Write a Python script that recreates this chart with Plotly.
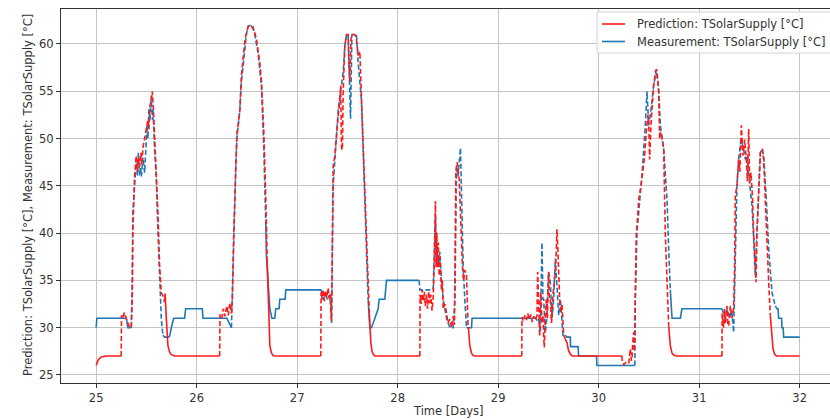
import plotly.graph_objects as go

# ---------------- data (time in days, temperature in °C) ----------------
# on-flag: 1 = segment drawn dashed (pump on), 0 = solid
pred_t = [25.000, 25.02, 25.05, 25.10, 25.249, 25.252, 25.266, 25.28, 25.299, 25.316, 25.332, 25.349,
          25.359, 25.365, 25.372, 25.382, 25.399, 25.41, 25.42, 25.432, 25.445, 25.455, 25.465, 25.482,
          25.495, 25.515, 25.525, 25.535, 25.548, 25.558, 25.570, 25.581, 25.598, 25.605, 25.615, 25.631,
          25.648, 25.664, 25.681, 25.686, 25.698, 25.706, 25.714, 25.731, 25.748, 25.78,
          26.229, 26.232, 26.25, 26.265, 26.28, 26.30, 26.315, 26.33, 26.346, 26.355, 26.369, 26.389,
          26.40, 26.412, 26.429, 26.445, 26.46, 26.478, 26.495, 26.512, 26.53, 26.545, 26.561, 26.578,
          26.595, 26.611, 26.628, 26.645, 26.668, 26.688, 26.701, 26.711, 26.72, 26.728, 26.745, 26.761, 26.78,
          27.235, 27.238, 27.25, 27.259, 27.27, 27.282, 27.295, 27.308, 27.32, 27.332, 27.342, 27.35,
          27.358, 27.375, 27.391, 27.408, 27.425, 27.433, 27.441, 27.45, 27.458, 27.474, 27.491, 27.507,
          27.515, 27.524, 27.535, 27.545, 27.574, 27.590, 27.607, 27.624, 27.640, 27.657, 27.673, 27.690,
          27.706, 27.718, 27.723, 27.733, 27.745, 27.756, 27.773,
          28.221, 28.223, 28.235, 28.245, 28.255, 28.265, 28.275, 28.287, 28.298, 28.31, 28.32, 28.33,
          28.342, 28.353, 28.362, 28.370, 28.376, 28.382, 28.39, 28.396, 28.405, 28.413, 28.42, 28.436,
          28.445, 28.453, 28.47, 28.486, 28.50, 28.519, 28.536, 28.552, 28.565, 28.579, 28.592, 28.612,
          28.625, 28.645, 28.655, 28.668, 28.685, 28.701, 28.704, 28.718, 28.735, 28.751, 28.77,
          29.235, 29.237, 29.25, 29.265, 29.28, 29.295, 29.31, 29.325, 29.34, 29.355, 29.37, 29.386,
          29.393, 29.403, 29.413, 29.42, 29.426, 29.436, 29.446, 29.453, 29.459, 29.469, 29.479, 29.49,
          29.502, 29.51, 29.519, 29.53, 29.536, 29.545, 29.552, 29.569, 29.578, 29.585, 29.595, 29.603,
          29.612, 29.625, 29.635, 29.652, 29.668, 29.685, 29.70, 29.718, 29.74,
          30.232, 30.235, 30.249, 30.27, 30.299, 30.315, 30.325, 30.332, 30.34, 30.348, 30.355, 30.365,
          30.375, 30.388, 30.398, 30.421, 30.438, 30.454, 30.474, 30.491, 30.50, 30.507, 30.515, 30.524,
          30.547, 30.567, 30.580, 30.597, 30.607, 30.614, 30.630, 30.647, 30.663, 30.680, 30.697, 30.70,
          30.713, 30.73, 30.746, 30.77,
          31.227, 31.229, 31.244, 31.252, 31.260, 31.27, 31.277, 31.285, 31.294, 31.302, 31.310, 31.325,
          31.343, 31.352, 31.360, 31.376, 31.393, 31.405, 31.420, 31.436, 31.453, 31.469, 31.480, 31.493,
          31.502, 31.516, 31.532, 31.542, 31.552, 31.566, 31.575, 31.595, 31.609, 31.629, 31.642, 31.658,
          31.675, 31.692, 31.708, 31.72, 31.735, 31.75, 31.77, 32.0]
pred_v = [26.0, 26.6, 26.9, 27.0, 27.0, 31.3, 31.0, 31.6, 31.0, 30.5, 30.0, 30.1,
          33.0, 40.0, 43.6, 46.0, 48.2, 46.5, 48.0, 47.0, 48.5, 47.2, 49.0, 50.0,
          51.0, 52.0, 51.0, 53.5, 54.0, 55.0, 53.0, 50.7, 46.4, 45.4, 42.0, 36.6,
          33.7, 33.4, 32.7, 33.6, 31.0, 29.2, 28.1, 27.4, 27.15, 27.0,
          27.0, 31.4, 31.0, 32.0, 31.2, 32.3, 31.3, 32.6, 31.5, 33.0, 40.0, 48.9,
          50.5, 51.4, 52.8, 56.6, 58.5, 60.2, 61.2, 61.8, 62.0, 61.9, 61.6, 61.2,
          60.5, 59.5, 58.0, 56.0, 50.7, 43.6, 37.3, 33.0, 30.0, 28.1, 27.3, 27.05, 27.0,
          27.0, 33.8, 33.0, 34.0, 32.8, 33.9, 33.2, 34.2, 33.0, 33.5, 30.7, 38.0,
          47.1, 48.2, 50.7, 52.4, 54.2, 55.6, 49.0, 48.8, 55.0, 59.8, 61.0, 61.0,
          58.0, 56.0, 60.5, 61.0, 61.0, 60.5, 58.8, 59.2, 54.2, 48.9, 43.6, 39.4,
          34.8, 31.5, 30.0, 28.4, 27.5, 27.2, 27.0,
          27.0, 33.5, 32.5, 34.0, 32.8, 33.8, 32.3, 33.5, 32.0, 33.8, 32.6, 33.5,
          31.8, 33.0, 36.0, 40.0, 43.4, 36.4, 40.0, 36.4, 39.0, 35.5, 37.5, 34.0,
          35.0, 32.0, 32.5, 31.6, 30.5, 30.9, 30.0, 31.2, 30.3, 46.4, 47.5, 45.7,
          41.8, 36.4, 35.0, 36.1, 35.5, 30.0, 30.0, 28.1, 27.3, 27.05, 27.0,
          27.0, 31.1, 30.7, 31.3, 30.8, 31.5, 30.9, 31.4, 30.6, 31.2, 30.8, 31.3,
          35.9, 32.0, 29.1, 33.0, 33.7, 30.5, 31.3, 29.0, 27.9, 31.0, 33.0, 31.0,
          35.9, 33.0, 33.0, 30.5, 31.0, 33.5, 34.1, 35.9, 38.0, 40.4, 38.0, 34.0,
          33.0, 31.6, 32.5, 29.2, 28.8, 28.4, 27.6, 27.2, 27.0,
          27.0, 26.3, 26.1, 26.3, 26.2, 27.75, 26.5, 26.7, 28.5, 29.5, 27.5, 33.9,
          40.0, 41.7, 43.5, 45.0, 46.4, 47.8, 50.7, 52.5, 51.0, 47.8, 50.0, 52.1,
          55.6, 57.2, 57.3, 54.9, 50.0, 50.7, 50.0, 48.9, 40.0, 34.8, 30.2, 29.5,
          28.1, 27.3, 27.1, 27.0,
          27.0, 31.5, 30.0, 32.0, 30.5, 31.8, 32.3, 30.3, 30.2, 31.5, 32.3, 31.0,
          32.0, 36.0, 44.0, 45.0, 47.8, 46.5, 51.4, 48.2, 49.9, 47.8, 45.5, 51.0,
          45.3, 46.4, 43.6, 40.1, 37.6, 34.8, 40.0, 46.4, 48.5, 48.9, 47.8, 43.6,
          38.3, 34.8, 31.3, 29.5, 27.8, 27.2, 27.0, 27.0]
pred_on = [0, 0, 0, 0, 0, 1, 1, 1, 1, 1, 1, 1,
           1, 1, 1, 1, 1, 1, 1, 1, 1, 1, 1, 1,
           1, 1, 1, 1, 1, 1, 1, 1, 1, 1, 1, 1,
           1, 1, 1, 0, 0, 0, 0, 0, 0, 0,
           0, 1, 1, 1, 1, 1, 1, 1, 1, 1, 1, 1,
           1, 1, 1, 1, 1, 1, 1, 1, 1, 1, 1, 1,
           1, 1, 1, 1, 1, 1, 1, 0, 0, 0, 0, 0, 0,
           0, 1, 1, 1, 1, 1, 1, 1, 1, 1, 1, 1,
           1, 1, 1, 1, 1, 1, 1, 1, 1, 1, 1, 1,
           1, 1, 1, 1, 1, 1, 1, 1, 1, 1, 1, 1,
           1, 1, 0, 0, 0, 0, 0,
           0, 1, 1, 1, 1, 1, 1, 1, 1, 1, 1, 1,
           1, 1, 1, 1, 1, 1, 1, 1, 1, 1, 1, 1,
           1, 1, 1, 1, 1, 1, 1, 1, 1, 1, 1, 1,
           1, 1, 1, 1, 1, 1, 0, 0, 0, 0, 0,
           0, 1, 1, 1, 1, 1, 1, 1, 1, 1, 1, 1,
           1, 1, 1, 1, 1, 1, 1, 1, 1, 1, 1, 1,
           1, 1, 1, 1, 1, 1, 1, 1, 1, 1, 1, 1,
           1, 1, 1, 1, 1, 0, 0, 0, 0,
           0, 1, 1, 1, 1, 1, 1, 1, 1, 1, 1, 1,
           1, 1, 1, 1, 1, 1, 1, 1, 1, 1, 1, 1,
           1, 1, 1, 1, 1, 1, 1, 1, 1, 1, 1, 0,
           0, 0, 0, 0,
           0, 1, 1, 1, 1, 1, 1, 1, 1, 1, 1, 1,
           1, 1, 1, 1, 1, 1, 1, 1, 1, 1, 1, 1,
           1, 1, 1, 1, 1, 1, 1, 1, 1, 1, 1, 1,
           1, 1, 1, 0, 0, 0, 0, 0]

meas_t = [25.000, 25.007, 25.30, 25.316, 25.349, 25.359, 25.365, 25.372, 25.382, 25.399, 25.41, 25.42,
          25.432, 25.44, 25.45, 25.465, 25.482, 25.495, 25.505, 25.515, 25.525, 25.535, 25.548, 25.56,
          25.565, 25.581, 25.598, 25.615, 25.631, 25.648, 25.664, 25.681, 25.714, 25.731, 25.748, 25.771,
          25.880, 25.890, 26.056, 26.063, 26.30, 26.32, 26.346, 26.355, 26.369, 26.389, 26.40, 26.412,
          26.429, 26.445, 26.478, 26.495, 26.512, 26.545, 26.561, 26.578, 26.611, 26.645, 26.668, 26.688,
          26.694, 26.728, 26.748, 26.777, 26.787, 26.82, 26.827, 26.88, 26.887, 27.242,
          27.259, 27.28, 27.30, 27.325, 27.342, 27.358, 27.375, 27.391, 27.408, 27.425, 27.441, 27.458,
          27.474, 27.491, 27.507, 27.531, 27.545, 27.574, 27.590, 27.607, 27.640, 27.673, 27.706, 27.723,
          27.740, 27.806, 27.815, 27.872, 27.889, 28.214,
          28.221, 28.25, 28.30, 28.353, 28.376, 28.386, 28.403, 28.42, 28.436, 28.453, 28.486, 28.519,
          28.552, 28.57, 28.585, 28.60, 28.625, 28.635, 28.652, 28.668, 28.685, 28.70,
          28.735, 28.74, 29.353,
          29.37, 29.386, 29.403, 29.42, 29.436, 29.446, 29.453, 29.469, 29.48, 29.502, 29.519, 29.536,
          29.552, 29.569, 29.585, 29.602, 29.619, 29.645, 29.668, 29.685,
          29.718, 29.72, 29.795, 29.801, 29.978, 29.983, 30.36,
          30.365, 30.381, 30.398, 30.431, 30.464, 30.481, 30.498, 30.521, 30.547, 30.574, 30.597, 30.614,
          30.647, 30.680, 30.697, 30.713, 30.730,
          30.813, 30.829, 31.227,
          31.24, 31.26, 31.28, 31.30, 31.325, 31.343, 31.376, 31.393, 31.416, 31.436, 31.46, 31.476,
          31.502, 31.526, 31.542, 31.559, 31.575, 31.595, 31.609, 31.625, 31.642, 31.668, 31.692, 31.725,
          31.758, 31.774,
          31.785, 31.791, 31.82, 31.824, 31.836, 31.841, 32.0]
meas_v = [30.0, 31.0, 31.0, 30.0, 30.0, 35.0, 42.2, 43.0, 45.0, 47.8, 46.1, 48.5,
          46.1, 47.0, 46.0, 48.0, 46.4, 49.0, 51.4, 50.0, 53.1, 52.0, 54.5, 52.0,
          53.1, 48.9, 46.0, 40.0, 34.8, 31.0, 29.2, 29.0, 29.0, 29.1, 30.0, 31.0,
          31.0, 32.0, 32.0, 31.0, 31.0, 30.5, 30.0, 34.0, 38.0, 47.0, 50.0, 51.4,
          53.0, 56.0, 59.8, 61.0, 61.9, 62.0, 61.8, 61.0, 59.0, 55.5, 49.0, 41.0,
          37.6, 32.0, 31.0, 31.0, 32.0, 32.0, 33.0, 33.0, 34.0, 34.0,
          33.0, 33.5, 33.0, 33.5, 30.5, 45.0, 48.0, 50.0, 53.0, 54.5, 56.0, 57.0,
          59.8, 61.0, 61.0, 52.1, 61.0, 61.0, 61.0, 58.0, 54.0, 43.6, 33.0, 30.0,
          30.0, 32.0, 33.0, 33.0, 35.0, 35.0,
          34.0, 34.0, 34.0, 34.0, 41.8, 37.9, 36.5, 38.0, 35.0, 33.0, 31.0, 30.0,
          30.0, 33.0, 47.1, 46.0, 49.0, 43.6, 36.5, 33.0, 30.0, 30.0,
          30.0, 31.0, 31.0,
          31.0, 30.8, 31.0, 29.5, 39.0, 33.0, 33.0, 29.5, 30.5, 35.9, 34.8, 31.0,
          33.0, 37.3, 33.7, 31.3, 33.0, 29.2, 29.2, 29.0,
          29.0, 28.0, 28.0, 27.0, 27.0, 26.0, 26.0,
          33.0, 40.1, 42.0, 46.1, 51.4, 55.0, 51.4, 53.1, 55.6, 57.2, 55.3, 51.4,
          48.9, 43.6, 38.3, 34.0, 31.0,
          31.0, 32.0, 32.0,
          31.5, 31.0, 32.0, 31.0, 31.8, 29.5, 45.0, 47.8, 49.9, 49.2, 47.8, 48.2,
          45.3, 42.9, 39.4, 35.5, 40.1, 45.7, 48.5, 48.9, 48.2, 43.6, 38.3, 33.7,
          32.3, 32.0,
          32.0, 31.0, 31.0, 30.0, 30.0, 29.0, 29.0]
meas_on = [0, 0, 0, 0, 0, 1, 1, 1, 1, 1, 1, 1,
           1, 1, 1, 1, 1, 1, 1, 1, 1, 1, 1, 1,
           1, 1, 1, 1, 1, 1, 1, 0, 0, 0, 0, 0,
           0, 0, 0, 0, 0, 0, 0, 1, 1, 1, 1, 1,
           1, 1, 1, 1, 1, 1, 1, 1, 1, 1, 1, 1,
           0, 0, 0, 0, 0, 0, 0, 0, 0, 0,
           1, 1, 1, 1, 1, 1, 1, 1, 1, 1, 1, 1,
           1, 1, 1, 1, 1, 1, 1, 1, 1, 1, 1, 0,
           0, 0, 0, 0, 0, 0,
           1, 1, 1, 1, 1, 1, 1, 1, 1, 1, 1, 1,
           1, 1, 1, 1, 1, 1, 1, 1, 1, 0,
           0, 0, 0,
           1, 1, 1, 1, 1, 1, 1, 1, 1, 1, 1, 1,
           1, 1, 1, 1, 1, 1, 1, 0,
           0, 0, 0, 0, 0, 0, 0,
           1, 1, 1, 1, 1, 1, 1, 1, 1, 1, 1, 1,
           1, 1, 1, 1, 0,
           0, 0, 0,
           1, 1, 1, 1, 1, 1, 1, 1, 1, 1, 1, 1,
           1, 1, 1, 1, 1, 1, 1, 1, 1, 1, 1, 1,
           1, 0,
           0, 0, 0, 0, 0, 0, 0]

x_ticks = [25, 26, 27, 28, 29, 30, 31, 32]
y_ticks = [25, 30, 35, 40, 45, 50, 55, 60]

PRED_NAME = "Prediction: TSolarSupply [°C]"
MEAS_NAME = "Measurement: TSolarSupply [°C]"
X_TITLE = "Time [Days]"
Y_TITLE = "Prediction: TSolarSupply [°C], Measurement: TSolarSupply [°C]"
RED = "#ff1a1a"
BLUE = "#1f77b4"
FONT = "DejaVu Sans"
FS = 11.5
TXT = "#333333"

# figure geometry (pixels) used to place paper-referenced decorations
W, H = 830, 420
ML, MR, MT, MB = 61, 0, 9, 37
PW, PH = W - ML - MR, H - MT - MB


def px(x):
    return (x - ML) / PW


def py(y):
    return (H - MB - y) / PH


def split_segments(t, v, on):
    """Split a series into solid and dashed polylines (None-separated)."""
    out = {0: ([], []), 1: ([], [])}
    last = {0: None, 1: None}
    for i in range(len(t) - 1):
        s = on[i + 1]
        xs, ys = out[s]
        if last[s] != i:
            if xs:
                xs.append(None)
                ys.append(None)
            xs.append(t[i])
            ys.append(v[i])
        xs.append(t[i + 1])
        ys.append(v[i + 1])
        last[s] = i + 1
    return out


fig = go.Figure()
for name, t, v, on, color in [
    (MEAS_NAME, meas_t, meas_v, meas_on, BLUE),
    (PRED_NAME, pred_t, pred_v, pred_on, RED),
]:
    seg = split_segments(t, v, on)
    fig.add_trace(go.Scatter(x=seg[0][0], y=seg[0][1], mode="lines", name=name,
                             line=dict(color=color, width=1.6), connectgaps=False,
                             showlegend=False, hoverinfo="skip"))
    fig.add_trace(go.Scatter(x=seg[1][0], y=seg[1][1], mode="lines", name=name,
                             line=dict(color=color, width=1.6, dash="5px,2.5px"),
                             connectgaps=False, showlegend=False, hoverinfo="skip"))

# legend (drawn like matplotlib's upper-right legend box)
shapes = [
    dict(type="rect", xref="paper", yref="paper", x0=px(597), x1=px(834), y0=py(53), y1=py(12),
         line=dict(color="#d4d4d4", width=1), fillcolor="rgba(255,255,255,0.85)", layer="above"),
    dict(type="line", xref="paper", yref="paper", x0=px(602), x1=px(625), y0=py(24), y1=py(24),
         line=dict(color=RED, width=1.6), layer="above"),
    dict(type="line", xref="paper", yref="paper", x0=px(602), x1=px(625), y0=py(41.5), y1=py(41.5),
         line=dict(color=BLUE, width=1.6), layer="above"),
]
annotations = [
    dict(text=PRED_NAME, xref="paper", yref="paper", x=px(635), y=py(24), xanchor="left",
         yanchor="middle", showarrow=False, font=dict(family=FONT, size=FS, color=TXT)),
    dict(text=MEAS_NAME, xref="paper", yref="paper", x=px(635), y=py(41.5), xanchor="left",
         yanchor="middle", showarrow=False, font=dict(family=FONT, size=FS, color=TXT)),
    dict(text=X_TITLE, xref="paper", yref="paper", x=px(448), y=py(411), xanchor="center",
         yanchor="middle", showarrow=False, font=dict(family=FONT, size=FS, color=TXT)),
    dict(text=Y_TITLE, xref="paper", yref="paper", x=px(28), y=py(195), xanchor="center",
         yanchor="middle", textangle=-90, showarrow=False,
         font=dict(family=FONT, size=FS, color=TXT)),
]

fig.update_layout(
    width=W, height=H,
    margin=dict(l=ML, r=MR, t=MT, b=MB),
    paper_bgcolor="white", plot_bgcolor="white",
    font=dict(family=FONT, size=FS, color=TXT),
    showlegend=False, hovermode=False,
    shapes=shapes, annotations=annotations,
)
fig.update_xaxes(range=[24.65, 32.302], tickvals=x_ticks, ticktext=[str(x) for x in x_ticks],
                 showgrid=True, gridcolor="#c4c4c4", gridwidth=1, zeroline=False,
                 showline=True, linecolor="#333333", linewidth=1, mirror=True,
                 ticks="outside", ticklen=4, tickcolor="#333333",
                 tickfont=dict(family=FONT, size=FS, color=TXT))
fig.update_yaxes(range=[24.15, 63.7], tickvals=y_ticks, ticktext=[str(y) for y in y_ticks],
                 showgrid=True, gridcolor="#c4c4c4", gridwidth=1, zeroline=False,
                 showline=True, linecolor="#333333", linewidth=1,
                 ticks="outside", ticklen=4, tickcolor="#333333",
                 tickfont=dict(family=FONT, size=FS, color=TXT))

# remove the browser's default 8px page margin so the figure sits at the window origin
fig.write_html("out.html", config={"displayModeBar": False},
               post_script="document.body.style.margin='0';document.body.style.overflow='hidden';")
